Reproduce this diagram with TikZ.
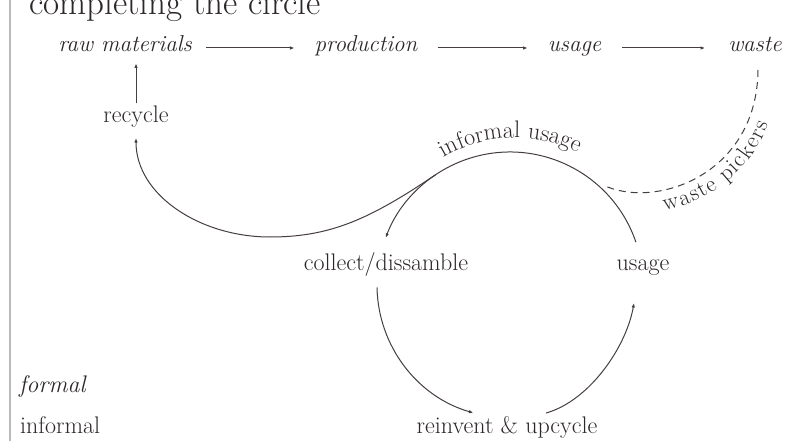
\documentclass[tikz,border=0pt]{standalone}
\usepackage{fontspec}
\usetikzlibrary{arrows.meta,decorations.text,calc}
\definecolor{ink}{RGB}{45,40,40}
\definecolor{lin}{RGB}{70,62,62}
\definecolor{rulec}{RGB}{190,185,185}
\begin{document}
\begin{tikzpicture}[x=1pt,y=1pt,
  lbl/.style={font=\fontsize{24}{24}\selectfont, text=ink, inner sep=0pt, anchor=base},
  itl/.style={lbl, font=\fontsize{23}{23}\selectfont\itshape},
  conn/.style={draw=lin, line width=1pt, -{Latex[length=4.5pt,width=3.5pt]}},
  dsh/.style={draw=lin, line width=1pt, dash pattern=on 7pt off 5pt}]
\useasboundingbox (0,0) rectangle (792,-441);
\fill[white] (0,0) rectangle (792,-441);
\clip (0,0) rectangle (792,-441);
\draw[rulec, line width=2.5pt] (10,0) -- (10,-441);

% title
\node[lbl, anchor=base west, font=\fontsize{35}{35}\selectfont] (title) at (29,-15) {completing the circle};

% formal chain
\node[itl] (raw) at (125,-52) {raw materials};
\node[itl] (prod) at (366,-52) {production};
\node[itl] (use1) at (574.5,-52) {usage};
\node[itl] (waste) at (755,-52) {waste};
\draw[conn] ([shift={(14pt,4pt)}]raw.base east) -- ([shift={(-20pt,4pt)}]prod.base west);
\draw[conn] ([shift={(20pt,4pt)}]prod.base east) -- ([shift={(-20pt,4pt)}]use1.base west);
\draw[conn] ([shift={(21pt,4pt)}]use1.base east) -- ([shift={(-23pt,4pt)}]waste.base west);

% recycle
\node[lbl] (rec) at (136,-123) {recycle};
\draw[conn] ([yshift=3pt]rec.north) -- ([yshift=-11pt]rec.north |- raw.south);

% informal circle
\node[lbl] (col) at (386,-270) {collect/dissamble};
\node[lbl] (use2) at (643,-270) {usage};
\node[lbl] (rei) at (507,-433) {reinvent \& upcycle};

\coordinate (C) at (510,-285);
\coordinate (a0) at ($(C)+(18.8:133)$);
\coordinate (br) at ($(C)+(124:133)$);
\coordinate (l0) at ($(C)+(181:133)$);
\coordinate (r0) at ($(C)+(285.7:133)$);
\coordinate (r1) at (634,-303);

\draw[conn] (a0) arc[start angle=18.8, end angle=159.2, radius=133];
\draw[conn] (br) .. controls ($(br)+(214:80)$) and (330,-237) .. (270,-237)
   .. controls (200,-237) and (136,-195) .. ([yshift=-10pt]rec.south);
\draw[conn] (l0) arc[start angle=181, end angle=254, radius=133];
\draw[conn] (r0) .. controls +(15.7:45) and +(260:45) .. (r1);

% waste pickers
\coordinate (wp) at (603,-185);
\coordinate (wtop) at ([shift={(3pt,-18pt)}]waste.base);
\draw[dsh] (wtop) .. controls (757,-175) and (655,-210) .. (wp);
\path[decorate, decoration={text along path, text={|\fontsize{23}{23}\selectfont|waste pickers},
   text color=ink, raise=-20pt, text align={left indent=58pt}}]
   (wp) .. controls (655,-210) and (757,-175) .. (wtop);

% informal usage label
\path[decorate, decoration={text along path, text={|\fontsize{24}{24}\selectfont|informal usage},
   text color=ink, text align=center}]
   ($(515,-280)+(128:142)$) arc[start angle=128, end angle=56, radius=142];

% legend
\node[itl, anchor=base west, font=\fontsize{24}{24}\selectfont\itshape] (formal) at (19,-392) {formal};
\node[lbl, anchor=base west] (inf) at (20,-433) {informal};
\end{tikzpicture}
\end{document}
